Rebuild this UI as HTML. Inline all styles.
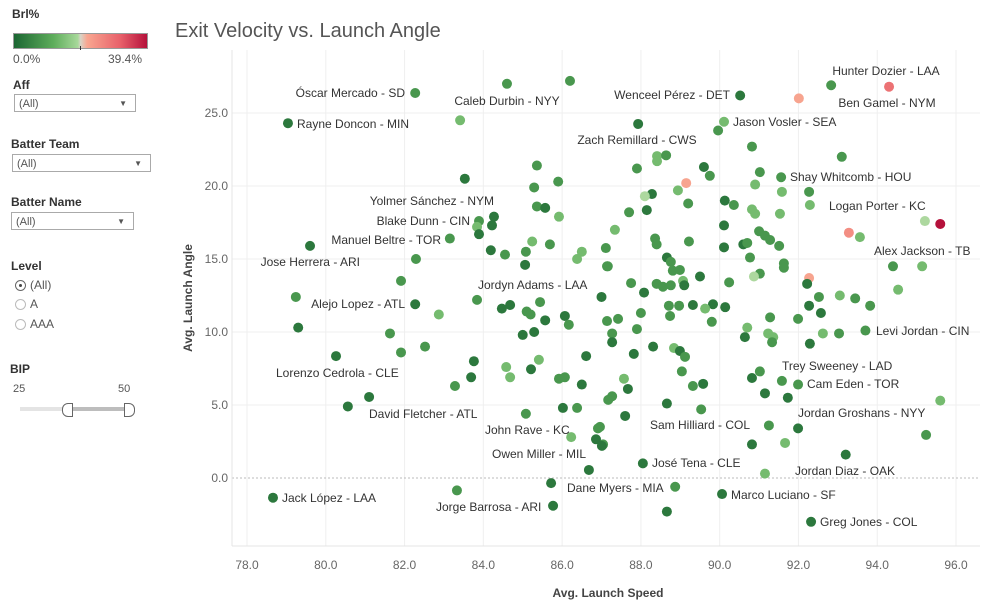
<!DOCTYPE html>
<html><head><meta charset="utf-8"><style>
body{margin:0;width:998px;height:614px;background:#fff;font-family:"Liberation Sans",sans-serif;position:relative;overflow:hidden;color:#333}
.a{position:absolute}
.lab{font-size:12px;font-weight:bold;color:#333}
.dd{position:absolute;border:1px solid #aaa;height:18px;font-size:11px;color:#555;line-height:18px;padding-left:4px;box-sizing:border-box;background:#fff}
.dd .ar{position:absolute;right:8px;top:0;font-size:8px}
.rad{position:absolute;font-size:12px;color:#555}
.rad i{display:inline-block;width:11px;height:11px;border:1px solid #bbb;border-radius:50%;vertical-align:-2px;margin-right:4px;box-sizing:border-box;position:relative}
</style></head><body>
<div class="a lab" style="left:12px;top:7px">Brl%</div>
<div class="a" style="left:13px;top:33px;width:135px;height:16px;border:1px solid #999;box-sizing:border-box;background:linear-gradient(to right,#1b6632 0%,#5fae5c 30%,#a7d89a 48%,#d9d4c7 50%,#f8a690 55%,#e8606a 80%,#b5113b 100%)"></div>
<div class="a" style="left:80px;top:46px;width:1px;height:4px;background:#333"></div>
<div class="a" style="left:13px;top:52px;font-size:12px;color:#555">0.0%</div>
<div class="a" style="left:108px;top:52px;font-size:12px;color:#555">39.4%</div>
<div class="a lab" style="left:13px;top:78px">Aff</div>
<div class="dd" style="left:14px;top:94px;width:122px">(All)<span class="ar">▼</span></div>
<div class="a lab" style="left:11px;top:137px">Batter Team</div>
<div class="dd" style="left:12px;top:154px;width:139px">(All)<span class="ar">▼</span></div>
<div class="a lab" style="left:11px;top:195px">Batter Name</div>
<div class="dd" style="left:11px;top:212px;width:123px">(All)<span class="ar">▼</span></div>
<div class="a lab" style="left:11px;top:259px">Level</div>
<div class="rad" style="left:15px;top:278px"><i style="border-color:#666"><b style="position:absolute;left:3px;top:3px;width:3px;height:3px;border-radius:50%;background:#444"></b></i>(All)</div>
<div class="rad" style="left:15px;top:297px"><i></i>A</div>
<div class="rad" style="left:15px;top:317px"><i></i>AAA</div>
<div class="a lab" style="left:10px;top:362px">BIP</div>
<div class="a" style="left:13px;top:383px;font-size:11px;color:#555">25</div>
<div class="a" style="left:118px;top:383px;font-size:11px;color:#555">50</div>
<div class="a" style="left:20px;top:407px;width:113px;height:4px;background:#e4e4e4"></div>
<div class="a" style="left:67px;top:407px;width:61px;height:4px;background:#bdbdbd"></div>
<div class="a" style="left:62px;top:403px;width:9px;height:12px;border:1px solid #666;border-radius:6px 0 0 6px;background:#fff"></div>
<div class="a" style="left:124px;top:403px;width:9px;height:12px;border:1px solid #666;border-radius:0 6px 6px 0;background:#fff"></div>
<div class="a" style="left:175px;top:20px;font-size:20px;color:#555">Exit Velocity vs. Launch Angle</div>
<svg id="chart" class="a" style="left:0;top:0" width="998" height="614"></svg>
<script>
const xs=[82.27,84.60,86.20,83.41,79.04,85.36,85.90,83.53,85.29,85.36,85.57,85.92,84.27,83.89,84.22,83.84,83.89,83.15,79.60,82.29,84.19,84.55,85.08,85.06,85.69,85.24,86.50,86.38,87.11,87.14,81.91,79.24,
90.52,92.01,92.83,94.30,87.93,90.11,89.96,90.82,93.1,88.41,88.41,88.64,87.9,89.6,89.75,91.02,91.56,90.9,91.58,92.27,92.29,89.15,88.94,88.28,88.1,89.2,87.70,88.15,90.13,90.36,90.82,90.9,91.53,87.34,90.11,91.0,91.15,91.28,91.51,88.36,88.4,89.22,90.11,90.6,90.7,93.28,93.56,95.21,95.6,94.4,95.14,87.16,88.66,88.76,88.81,88.99,89.5,89.07,89.1,88.4,88.56,88.76,87.75,88.08,90.24,90.77,91.02,91.63,91.63,90.87,92.27,92.22,94.53,
92.52,93.05,93.44,93.82,92.27,92.57,93.7,93.03,92.62,92.29,91.99,91.28,90.7,90.64,91.23,91.36,91.33,89.8,90.14,89.83,89.63,89.32,88.97,88.71,88.74,88.0,87.9,87.42,87.14,87.27,87.27,87.82,88.31,88.84,88.99,89.12,89.04,89.32,89.58,88.66,89.53,87.57,87.67,87.27,87.17,87.6,90.82,91.02,91.58,91.99,91.15,91.73,95.6,91.25,91.99,90.82,91.66,95.24,93.2,91.15,88.05,88.87,90.06,88.66,92.32,86.96,87.04,
82.27,82.87,83.84,84.47,84.68,85.1,85.2,85.44,85.57,86.07,86.17,87.0,79.3,81.63,81.91,82.52,80.26,85.0,85.29,86.61,83.76,83.69,83.28,84.58,84.68,85.21,85.41,85.92,86.07,86.5,81.1,80.56,85.08,86.02,86.38,86.91,86.23,86.86,87.01,86.68,85.72,83.33,85.77,78.66];
const ys=[26.37,27.0,27.2,24.5,24.3,21.4,20.3,20.5,19.9,18.6,18.5,17.9,17.9,17.6,17.3,17.2,16.7,16.4,15.9,15.0,15.6,15.3,15.5,14.6,16.0,16.2,15.5,15.0,15.75,14.5,13.5,12.4,
26.2,26.0,26.9,26.8,24.25,24.4,23.8,22.7,22.0,22.05,21.7,22.1,21.2,21.3,20.7,20.95,20.6,20.1,19.6,19.6,18.7,20.2,19.7,19.45,19.3,18.8,18.2,18.35,19.0,18.7,18.4,18.1,18.1,17.0,17.3,16.9,16.6,16.3,15.9,16.4,16.0,16.2,15.8,16.0,16.1,16.8,16.5,17.6,17.4,14.5,14.5,14.5,15.1,14.8,14.2,14.25,13.8,13.5,13.2,13.3,13.1,13.2,13.35,12.7,13.4,15.1,14.0,14.7,14.4,13.8,13.7,13.3,12.9,
12.4,12.5,12.3,11.8,11.8,11.3,10.1,9.9,9.9,9.2,10.9,11.0,10.3,9.65,9.9,9.65,9.3,10.7,11.7,11.9,11.6,11.85,11.8,11.8,11.1,11.3,10.2,10.9,10.75,9.9,9.3,8.5,9.0,8.9,8.7,8.3,7.3,6.3,6.45,5.1,4.7,6.8,6.1,5.6,5.35,4.25,6.85,7.3,6.65,6.4,5.8,5.5,5.3,3.6,3.4,2.3,2.4,2.95,1.6,0.3,1.0,-0.6,-1.1,-2.3,-3.0,3.5,2.3,
11.9,11.2,12.2,11.6,11.85,11.4,11.2,12.05,10.8,11.1,10.5,12.4,10.3,9.9,8.6,9.0,8.35,9.8,10.0,8.35,8.0,6.9,6.3,7.6,6.9,7.45,8.1,6.8,6.9,6.4,5.55,4.9,4.4,4.8,4.8,3.4,2.8,2.65,2.2,0.55,-0.35,-0.85,-1.9,-1.35];
const brlCodes=
"mmmldmmdmmdldmdldmdmdmmdmlllmmmm"+
"dpmrdlmmml"+"lmmdmmmllm"+"lpldbmmddm"+"lllldmmmmm"+"mmddmslbcm"+"lmdmmmdldm"+"mmmdmmmmmb"+"pdl"+
"mlmmddmmld"+"mmldllmmdd"+"ldmmmmmmmm"+"dddldmmmdd"+"mldmmddmmm"+"ddlmddlmdl"+"dmdddmm"+
"dlmddmmmdd"+"mddmmmdddd"+"ddmlldlmmd"+"ddmdmmlddd"+"dmdd";
const codeVal={d:3,m:8,l:14,b:19,p:22,s:25,r:29,c:39.4};
const brl=brlCodes.split('').map(c=>codeVal[c]);
const xTicks=[78,80,82,84,86,88,90,92,94,96];
const yTicks=[0,5,10,15,20,25];
const labels=[["Óscar Mercado - SD",405,93,"end"],["Caleb Durbin - NYY",507,101,"middle"],["Rayne Doncon - MIN",297,124,"start"],["Wenceel Pérez - DET",730,95,"end"],["Hunter Dozier - LAA",886,71,"middle"],["Ben Gamel - NYM",887,103,"middle"],["Zach Remillard - CWS",637,140,"middle"],["Jason Vosler - SEA",733,122,"start"],["Shay Whitcomb - HOU",790,177,"start"],["Logan Porter - KC",829,206,"start"],["Alex Jackson - TB",874,251,"start"],["Yolmer Sánchez - NYM",494,201,"end"],["Blake Dunn - CIN",470,221,"end"],["Manuel Beltre - TOR",441,240,"end"],["Jose Herrera - ARI",360,262,"end"],["Jordyn Adams - LAA",478,285,"start"],["Alejo Lopez - ATL",405,304,"end"],["Levi Jordan - CIN",876,331,"start"],["Trey Sweeney - LAD",782,366,"start"],["Cam Eden - TOR",807,384,"start"],["Lorenzo Cedrola - CLE",276,373,"start"],["David Fletcher - ATL",369,414,"start"],["John Rave - KC",485,430,"start"],["Sam Hilliard - COL",650,425,"start"],["Jordan Groshans - NYY",798,413,"start"],["Owen Miller - MIL",492,454,"start"],["José Tena - CLE",652,463,"start"],["Jordan Diaz - OAK",795,471,"start"],["Dane Myers - MIA",567,488,"start"],["Jack López - LAA",282,498,"start"],["Marco Luciano - SF",731,495,"start"],["Jorge Barrosa - ARI",436,507,"start"],["Greg Jones - COL",820,522,"start"]];
</script>
<script>
const svg=document.getElementById('chart');const NS='http://www.w3.org/2000/svg';
const L=232,R=980,T=50,B=546;
function sx(v){return 247+(v-78)*39.39;}
function sy(v){return 478-v*14.6;}
function mk(t,a,p){const e=document.createElementNS(NS,t);for(const k in a)e.setAttribute(k,a[k]);(p||svg).appendChild(e);return e;}
function hex(h){return [1,3,5].map(i=>parseInt(h.substr(i,2),16));}
const stops=[[0,'#1b6632'],[0.3,'#5fae5c'],[0.48,'#a7d89a'],[0.5,'#d9d4c7'],[0.55,'#f8a690'],[0.8,'#e8606a'],[1,'#b5113b']];
function col(v){const t=Math.max(0,Math.min(1,v/39.4));for(let i=1;i<stops.length;i++){if(t<=stops[i][0]){const a=stops[i-1],b=stops[i];const f=(t-a[0])/(b[0]-a[0]);const c1=hex(a[1]),c2=hex(b[1]);return 'rgb('+c1.map((c,j)=>Math.round(c+(c2[j]-c)*f)).join(',')+')';}}return stops[6][1];}
xTicks.forEach(v=>{mk('line',{x1:sx(v),x2:sx(v),y1:T,y2:B,stroke:'#efefef'});
const t=mk('text',{x:sx(v),y:569,'text-anchor':'middle','font-size':12,fill:'#666'});t.textContent=v.toFixed(1);

});
yTicks.forEach(v=>{if(v!==0)mk('line',{x1:L,x2:R,y1:sy(v),y2:sy(v),stroke:'#efefef'});
const t=mk('text',{x:228,y:sy(v)+4,'text-anchor':'end','font-size':12,fill:'#666'});t.textContent=v.toFixed(1);

});
mk('line',{x1:L,x2:R,y1:sy(0),y2:sy(0),stroke:'#bbb','stroke-dasharray':'2,2'});
mk('line',{x1:L,x2:L,y1:T,y2:B,stroke:'#e4e4e4'});mk('line',{x1:L,x2:R,y1:B,y2:B,stroke:'#e4e4e4'});
const xt=mk('text',{x:608,y:597,'text-anchor':'middle','font-size':12,'font-weight':'bold',fill:'#444'});xt.textContent='Avg. Launch Speed';


const yt=mk('text',{x:0,y:0,'text-anchor':'middle','font-size':12,'font-weight':'bold',fill:'#444',transform:'translate(192,298) rotate(-90)'});yt.textContent='Avg. Launch Angle';


for(let i=0;i<xs.length;i++){const v=(brl[i]!==undefined)?brl[i]:8;
const c=mk('circle',{cx:sx(xs[i]),cy:sy(ys[i]),r:5,fill:col(v)});

}
labels.forEach(l=>{const t=mk('text',{x:l[1],y:l[2]+4,'text-anchor':l[3],'font-size':12,fill:'#333'});t.textContent=l[0];

});
</script>
</body></html>
